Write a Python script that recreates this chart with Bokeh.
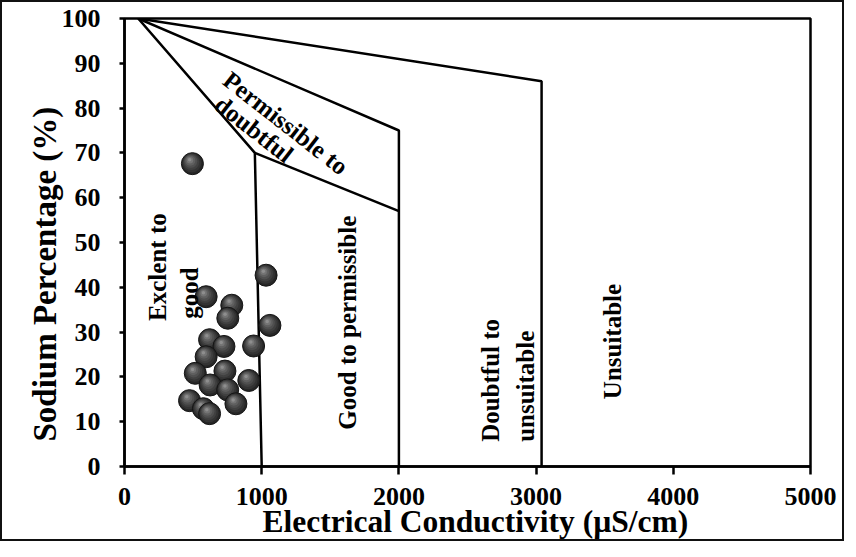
import math
from bokeh.plotting import figure
from bokeh.models import Range1d, Label, FixedTicker, Title
from bokeh.embed import file_html
from bokeh.resources import INLINE

# Sample values: electrical conductivity (µS/cm) and sodium percentage (%)
ec = [495, 1032, 595, 782, 753, 1060, 620, 725, 941, 595, 516, 732, 906, 624, 752, 474, 575, 812, 620]
na = [67.6, 42.7, 37.9, 36.0, 33.1, 31.5, 28.3, 26.8, 26.9, 24.5, 20.8, 21.3, 19.2, 18.2, 17.1, 14.7, 12.9, 14.0, 11.8]

# Wilcox diagram boundaries
b1_x = [100, 950, 1000]
b1_y = [100, 70, 0]
b2_x = [950, 2000]
b2_y = [70, 57]
b3_x = [100, 2000, 2000]
b3_y = [100, 75, 0]
b4_x = [100, 3040, 3040]
b4_y = [100, 86, 0]

x_ticks = [0, 1000, 2000, 3000, 4000, 5000]
y_ticks = [0, 10, 20, 30, 40, 50, 60, 70, 80, 90, 100]

x_title = "Electrical Conductivity (µS/cm)"
y_title = "Sodium Percentage (%)"

X_MAX, Y_MAX = 5000, 100
FRAME_W, FRAME_H = 686, 448
FONT = "Liberation Serif"

p = figure(width=844, height=541,
           x_range=Range1d(0, X_MAX), y_range=Range1d(0, Y_MAX),
           output_backend="svg", toolbar_location=None,
           min_border_left=122, min_border_right=36,
           min_border_top=16, min_border_bottom=77,
           styles={"border": "2px solid #111"})

p.xgrid.visible = False
p.ygrid.visible = False
p.outline_line_color = "black"
p.outline_line_width = 2.5
p.background_fill_color = "white"
p.border_fill_color = "white"

p.xaxis.ticker = FixedTicker(ticks=x_ticks)
p.yaxis.ticker = FixedTicker(ticks=y_ticks)
for ax in (p.xaxis, p.yaxis):
    ax.axis_line_width = 2.5
    ax.axis_line_color = "black"
    ax.major_tick_line_width = 2.5
    ax.major_tick_line_color = "black"
    ax.major_tick_in = 0
    ax.minor_tick_line_color = None
    ax.major_label_text_font = FONT
    ax.major_label_text_font_style = "bold"
    ax.major_label_text_font_size = "26px"
    ax.major_label_text_color = "black"

p.xaxis.major_tick_out = 8
p.yaxis.major_tick_out = 5
p.xaxis.major_label_standoff = 13
p.yaxis.major_label_standoff = 19

p.add_layout(Title(text=x_title, align="left", offset=138, standoff=-11,
                   text_font=FONT, text_font_style="bold",
                   text_font_size="31.5px", text_color="black"), "below")
p.add_layout(Title(text=y_title, align="left", offset=25, standoff=-8,
                   text_font=FONT, text_font_style="bold",
                   text_font_size="33px", text_color="black"), "left")

# boundaries
for bx, by in ((b1_x, b1_y), (b2_x, b2_y), (b3_x, b3_y), (b4_x, b4_y)):
    p.line(bx, by, line_color="black", line_width=2.5)

# shaded balls
px_x = X_MAX / FRAME_W
px_y = Y_MAX / FRAME_H
layers = [(22, 0.0, "#262626"), (19, 0.8, "#333333"), (16, 1.6, "#404040"),
          (13, 2.3, "#4f4f4f"), (10, 3.0, "#5f5f5f"), (6.5, 3.5, "#747474"),
          (3.5, 3.9, "#8e8e8e")]
for xi, yi in zip(ec, na):
    for k, (sz, off, col) in enumerate(layers):
        p.scatter([xi - off * px_x * 0.7], [yi + off * px_y],
                  size=sz, fill_color=col,
                  line_color="#151515" if k == 0 else None,
                  line_width=1 if k == 0 else 0)

def lab(x, y, text, angle=0.0, align="left", baseline="middle", size="25px"):
    p.add_layout(Label(x=x, y=y, text=text, angle=angle,
                       text_align=align, text_baseline=baseline,
                       text_font=FONT, text_font_style="bold",
                       text_font_size=size, text_color="black"))

half_pi = math.pi / 2
lab(240, 32.5, "Exclent to", half_pi)
lab(474, 33.0, "good", half_pi)
lab(1625, 32.1, "Good to permissible", half_pi, align="center")
lab(2668, 5.5, "Doubtful to", half_pi)
lab(2926, 5.5, "unsuitable", half_pi)
lab(3557, 27.9, "Unsuitable", half_pi, align="center")
rot = -math.radians(38)
lab(743, 87.0, "Permissible to", rot, baseline="alphabetic")
lab(681, 81.6, "doubtful", rot, baseline="alphabetic")

open("out.html", "w").write(file_html(p, INLINE))
